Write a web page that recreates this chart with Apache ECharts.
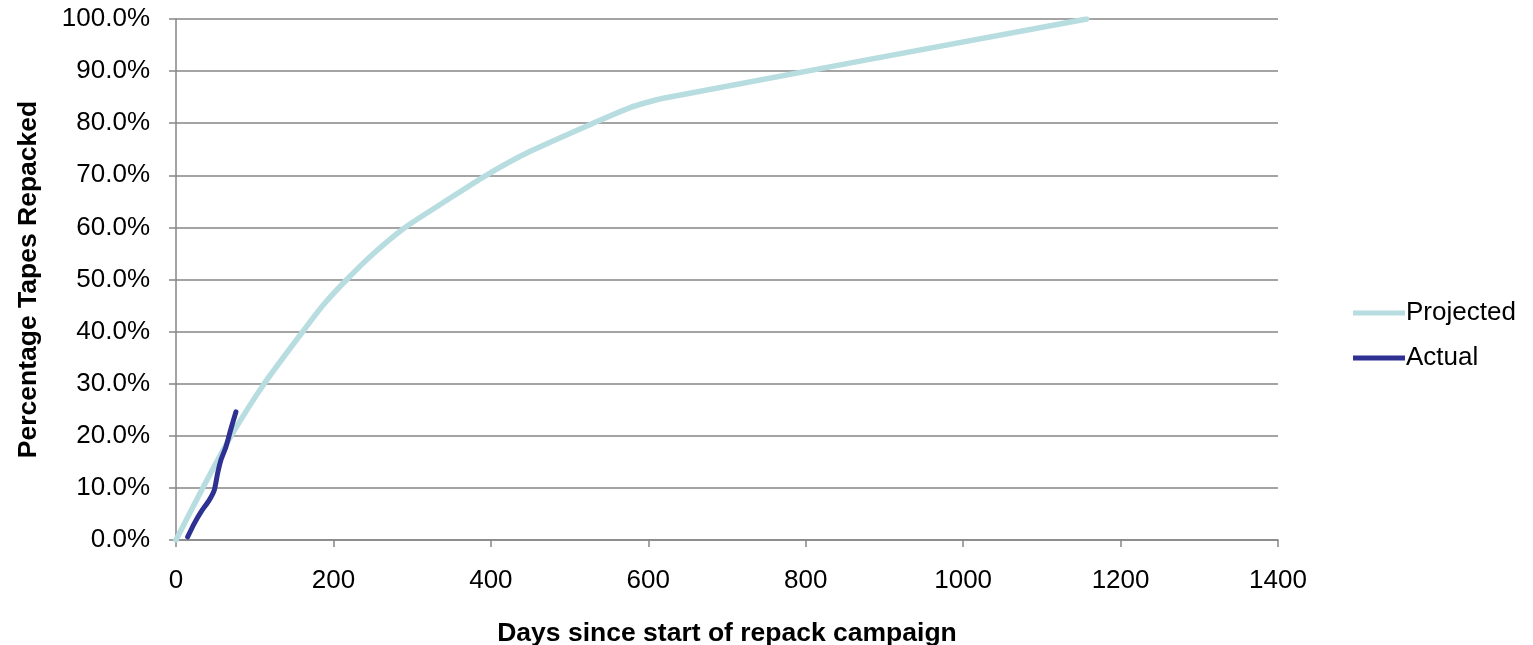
<!DOCTYPE html>
<html>
<head>
<meta charset="utf-8">
<script src="https://cdn.jsdelivr.net/npm/echarts@6/dist/echarts.min.js"></script>
<style>
html,body{margin:0;padding:0;background:#fff;}
#chart{width:1533px;height:645px;}
</style>
</head>
<body>
<div id="chart"></div>
<script>
// Days since start, percentage repacked
const projectedDays = [0, 34, 70, 112, 161, 187, 217, 251, 291, 344, 394, 450, 530, 577, 619, 1157];
const projectedPct  = [0, 10, 20, 30, 40, 45.1, 50, 55, 60, 65.2, 70, 74.6, 80, 83.0, 84.8, 100];
const actualDays = [14.8, 23.3, 31.8, 42.4, 48.7, 52.9, 57.2, 63.5, 69.9, 76.2];
const actualPct  = [0.6, 3.2, 5.4, 7.7, 9.6, 12.8, 15.4, 17.9, 21.4, 24.6];
const seriesNames = ['Projected', 'Actual'];
const xTitle = 'Days since start of repack campaign';
const yTitle = 'Percentage Tapes Repacked';

const pair = (xs, ys) => xs.map((x, i) => [x, ys[i]]);
const font = 'Liberation Sans, Arial, sans-serif';
const axisGray = '#868686';
const projColor = '#B7DDE0';
const actColor = '#2E3192';

const chart = echarts.init(document.getElementById('chart'), null, {renderer: 'canvas'});
chart.setOption({
  animation: false,
  backgroundColor: '#ffffff',
  textStyle: {fontFamily: font},
  grid: {left: 176, right: 255, top: 19, bottom: 105, containLabel: false, outerBoundsMode: 'none'},
  legend: {
    orient: 'vertical',
    left: 1348,
    top: 295,
    itemWidth: 52,
    itemHeight: 14,
    itemGap: 19,
    data: [
      {name: seriesNames[0], icon: 'path://M0,0 L52,0 L52,5 L0,5 Z', itemStyle: {color: projColor}},
      {name: seriesNames[1], icon: 'path://M0,0 L52,0 L52,5 L0,5 Z', itemStyle: {color: actColor}}
    ],
    textStyle: {fontSize: 26, color: '#000', fontFamily: font, padding: [0, 0, 0, -4]}
  },
  xAxis: {
    type: 'value',
    min: 0, max: 1400, interval: 200,
    name: xTitle,
    nameLocation: 'middle',
    nameGap: 80,
    nameTextStyle: {fontSize: 26.5, fontWeight: 'bold', color: '#000', fontFamily: font},
    axisLine: {show: true, lineStyle: {color: axisGray, width: 1.5}},
    axisTick: {show: true, inside: false, length: 7, lineStyle: {color: axisGray, width: 1.5}},
    axisLabel: {fontSize: 26, color: '#000', margin: 28, fontFamily: font,
      formatter: v => String(v)},
    splitLine: {show: false}
  },
  yAxis: {
    type: 'value',
    min: 0, max: 100, interval: 10,
    name: yTitle,
    nameLocation: 'middle',
    nameGap: 134,
    nameTextStyle: {fontSize: 26.5, fontWeight: 'bold', color: '#000', fontFamily: font},
    axisLine: {show: true, lineStyle: {color: axisGray, width: 1.5}},
    axisTick: {show: true, inside: false, length: 7, lineStyle: {color: axisGray, width: 1.5}},
    axisLabel: {fontSize: 26, color: '#000', margin: 26, fontFamily: font,
      formatter: v => v.toFixed(1) + '%'},
    splitLine: {show: true, lineStyle: {color: axisGray, width: 1.5}}
  },
  series: [
    {
      name: seriesNames[0], type: 'line', showSymbol: false, symbol: 'none',
      smooth: 0.2,
      lineStyle: {color: projColor, width: 5.5, cap: 'round', join: 'round'},
      itemStyle: {color: projColor},
      data: pair(projectedDays, projectedPct), z: 2
    },
    {
      name: seriesNames[1], type: 'line', showSymbol: false, symbol: 'none',
      smooth: 0.2,
      lineStyle: {color: actColor, width: 5, cap: 'round', join: 'round'},
      itemStyle: {color: actColor},
      data: pair(actualDays, actualPct), z: 3
    }
  ]
});
</script>
</body>
</html>
